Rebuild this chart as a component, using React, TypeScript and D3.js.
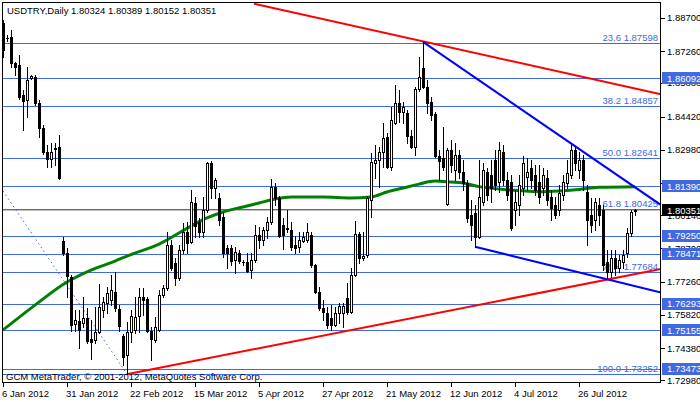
import React from 'react';
import * as d3 from 'd3';

const W = 700;
const H = 402;
const PL = 2, PT = 2, PR = 661, PB = 383;

const opens = [1.8848,1.8783,1.8787,1.8675,1.8666,1.8536,1.8514,1.8610,1.8614,1.8501,1.8392,1.8288,1.8258,1.8306,1.8310,1.7902,1.7850,1.7746,1.7542,1.7555,1.7546,1.7568,1.7477,1.7472,1.7507,1.7603,1.7633,1.7646,1.7681,1.7607,1.7490,1.7407,1.7507,1.7516,1.7577,1.7659,1.7650,1.7511,1.7472,1.7516,1.7668,1.7698,1.7885,1.7807,1.7742,1.7863,1.7941,1.7898,1.8067,1.7985,1.7941,1.8037,1.8241,1.8132,1.8089,1.8006,1.7872,1.7872,1.7820,1.7850,1.7811,1.7811,1.7776,1.7820,1.7928,1.7906,1.7950,1.7985,1.8136,1.8089,1.7972,1.7959,1.7950,1.7885,1.7876,1.7902,1.7906,1.7928,1.7798,1.7681,1.7611,1.7590,1.7568,1.7537,1.7590,1.7590,1.7655,1.7594,1.7755,1.7932,1.7828,1.7841,1.8080,1.8241,1.8254,1.8288,1.8353,1.8223,1.8414,1.8501,1.8462,1.8458,1.8358,1.8310,1.8562,1.8653,1.8570,1.8505,1.8453,1.8271,1.8262,1.8063,1.8297,1.8210,1.8275,1.8201,1.8154,1.8015,1.8024,1.7919,1.8071,1.8201,1.8189,1.8254,1.8158,1.8288,1.8167,1.8158,1.8037,1.8058,1.8132,1.8180,1.8219,1.8189,1.8158,1.8132,1.8176,1.8093,1.8058,1.8037,1.8102,1.8154,1.8189,1.8297,1.8210,1.8254,1.8115,1.8015,1.7993,1.8058,1.8037,1.7811,1.7768,1.7828,1.7785,1.7811,1.7850,1.7937,1.80324];
const highs = [1.8861,1.8796,1.8818,1.8679,1.8709,1.8557,1.8657,1.8623,1.8623,1.8514,1.8405,1.8319,1.8327,1.8327,1.8362,1.7919,1.7872,1.7755,1.7603,1.7603,1.7659,1.7611,1.7559,1.7616,1.7715,1.7659,1.7702,1.7755,1.7768,1.7624,1.7498,1.7550,1.7603,1.7659,1.7698,1.7698,1.7659,1.7529,1.7572,1.7689,1.7711,1.7941,1.7906,1.7828,1.7885,1.7980,1.7985,1.8123,1.8093,1.8002,1.8093,1.8245,1.8249,1.8176,1.8110,1.8024,1.7885,1.7885,1.7876,1.7863,1.7820,1.7850,1.7850,1.7972,1.7963,1.7963,1.8006,1.8171,1.8154,1.8097,1.8002,1.8037,1.7985,1.7924,1.7941,1.7941,1.7980,1.7941,1.7802,1.7702,1.7646,1.7616,1.7624,1.7616,1.7633,1.7633,1.7720,1.7785,1.7989,1.7941,1.7941,1.8097,1.8284,1.8319,1.8310,1.8414,1.8371,1.8484,1.8579,1.8557,1.8505,1.8471,1.8384,1.8570,1.8701,1.8766,1.8601,1.8527,1.8462,1.8297,1.8397,1.8306,1.8340,1.8327,1.8297,1.8254,1.8167,1.8080,1.8058,1.8254,1.8241,1.8219,1.8254,1.8297,1.8332,1.8319,1.8201,1.8189,1.8123,1.8189,1.8271,1.8262,1.8254,1.8232,1.8232,1.8219,1.8210,1.8123,1.8093,1.8145,1.8189,1.8254,1.8319,1.8310,1.8288,1.8275,1.8145,1.8089,1.8089,1.8089,1.8058,1.7863,1.7863,1.7863,1.7841,1.7863,1.7959,1.8037,1.80389];
const lows = [1.8701,1.8770,1.8657,1.8623,1.8518,1.8384,1.8440,1.8605,1.8492,1.8353,1.8280,1.8223,1.8223,1.8232,1.8171,1.7841,1.7659,1.7511,1.7511,1.7438,1.7529,1.7459,1.7390,1.7459,1.7503,1.7572,1.7590,1.7624,1.7598,1.7511,1.7364,1.7325,1.7464,1.7503,1.7507,1.7581,1.7507,1.7386,1.7464,1.7511,1.7659,1.7689,1.7776,1.7711,1.7733,1.7850,1.7850,1.7893,1.7919,1.7919,1.7919,1.8028,1.8089,1.8089,1.7972,1.7833,1.7785,1.7798,1.7763,1.7807,1.7798,1.7768,1.7742,1.7811,1.7872,1.7885,1.7915,1.7976,1.8058,1.7919,1.7867,1.7941,1.7863,1.7850,1.7854,1.7898,1.7898,1.7789,1.7676,1.7603,1.7559,1.7525,1.7516,1.7533,1.7546,1.7529,1.7585,1.7590,1.7750,1.7807,1.7820,1.7833,1.8006,1.8176,1.8136,1.8223,1.8219,1.8210,1.8410,1.8419,1.8414,1.8327,1.8306,1.8275,1.8553,1.8566,1.8458,1.8427,1.8267,1.8167,1.8210,1.8058,1.8201,1.8167,1.8176,1.8123,1.7985,1.7906,1.7876,1.7915,1.8058,1.8080,1.8071,1.8123,1.8115,1.8145,1.8080,1.7950,1.7972,1.8015,1.8102,1.8123,1.8132,1.8102,1.8067,1.8102,1.8058,1.7993,1.8002,1.8015,1.8080,1.8132,1.8176,1.8210,1.8176,1.8123,1.7885,1.7941,1.7950,1.7972,1.7776,1.7742,1.7746,1.7755,1.7768,1.7785,1.7833,1.7924,1.80152];
const closes = [1.8731,1.8781,1.8675,1.8657,1.8527,1.8510,1.8601,1.8618,1.8501,1.8392,1.8288,1.8258,1.8288,1.8301,1.8176,1.7850,1.7750,1.7537,1.7559,1.7516,1.7568,1.7468,1.7464,1.7507,1.7616,1.7637,1.7676,1.7689,1.7611,1.7533,1.7399,1.7507,1.7577,1.7572,1.7659,1.7646,1.7511,1.7477,1.7529,1.7668,1.7698,1.7885,1.7785,1.7742,1.7863,1.7941,1.7893,1.8071,1.7967,1.7941,1.8037,1.8241,1.8132,1.8167,1.7993,1.7850,1.7850,1.7815,1.7854,1.7815,1.7809,1.7772,1.7820,1.7928,1.7906,1.7950,1.7985,1.8136,1.8089,1.7924,1.7928,1.7954,1.7876,1.7872,1.7906,1.7919,1.7941,1.7798,1.7681,1.7611,1.7594,1.7537,1.7537,1.7590,1.7620,1.7620,1.7594,1.7755,1.7932,1.7828,1.7837,1.8089,1.8245,1.8254,1.8288,1.8349,1.8223,1.8427,1.8501,1.8462,1.8484,1.8358,1.8310,1.8562,1.8614,1.8570,1.8501,1.8449,1.8271,1.8249,1.8223,1.8297,1.8232,1.8275,1.8201,1.8154,1.8002,1.7972,1.7919,1.8093,1.8210,1.8102,1.8132,1.8145,1.8297,1.8167,1.8102,1.7959,1.8071,1.8145,1.8241,1.8201,1.8167,1.8123,1.8093,1.8189,1.8080,1.8045,1.8015,1.8110,1.8158,1.8197,1.8297,1.8241,1.8254,1.8167,1.7993,1.7972,1.8071,1.8015,1.7798,1.7768,1.7828,1.7785,1.7820,1.7841,1.7937,1.8028,1.80351];

const maIndex = [0,8,16,22,28,31,39,47,51,55,60,64,68,72,80,87,92,96,100,104,108,112,115,119,127,134,139,144,149,158];
const maValue = [1.7516,1.7624,1.7724,1.7776,1.7815,1.7837,1.7889,1.7967,1.8002,1.8028,1.8050,1.8067,1.8084,1.8093,1.8093,1.8089,1.8093,1.8115,1.8132,1.8149,1.8162,1.8158,1.8154,1.8138,1.8123,1.8116,1.8119,1.8126,1.8135,1.8138];

const hLevels = [1.86092, 1.81390, 1.79250, 1.78471, 1.76293, 1.75155, 1.73473];
const fibLevels = [23.6, 38.2, 50.0, 61.8, 76.4, 100.0];
const fibPrices = [1.87598, 1.84857, 1.82641, 1.80425, 1.77684, 1.73252];
const priceTicks = [1.887, 1.8726, 1.8588, 1.8442, 1.8298, 1.8154, 1.8014, 1.787, 1.7726, 1.7582, 1.7438, 1.7298];
const dateLabels = ['6 Jan 2012', '31 Jan 2012', '22 Feb 2012', '15 Mar 2012', '5 Apr 2012', '27 Apr 2012', '21 May 2012', '12 Jun 2012', '4 Jul 2012', '26 Jul 2012'];
const dateStep = 16;

const redLines = [
  [[62.75, 1.8931], [164.5, 1.8539]],
  [[31.25, 1.7325], [164.5, 1.7781]],
];
const blueLines = [
  [[105, 1.8766], [164.5, 1.8058]],
  [[118, 1.7877], [164.5, 1.7679]],
];
const dottedLine = [[0, 1.8119], [31, 1.7325]];

const symbol = 'USDTRY,Daily';
const bid = 1.80351;

const FONT = '"Liberation Sans", Arial, sans-serif';

export default function App() {
  const n = closes.length;
  const x = d3.scaleLinear().domain([0, n - 1]).range([3, 3 + 4 * (n - 1)]);
  const y = d3.scaleLinear().domain([1.72862, 1.8939]).range([PB, PT]);
  const seg = d3.line<number[]>().x((d) => x(d[0])).y((d) => y(d[1]));
  const maLine = d3
    .line<number>()
    .x((_, i) => x(maIndex[i]))
    .y((d) => y(d))
    .curve(d3.curveMonotoneX);
  const crisp = (v: number) => Math.round(v) + 0.5;
  const fmt = (v: number) => v.toFixed(5);

  return (
    <svg
      width={W}
      height={H}
      style={{ position: 'fixed', left: 0, top: 0, background: '#fff' }}
      fontFamily={FONT}
    >
      <defs>
        <clipPath id="plot">
          <rect x={PL} y={PT} width={PR - PL} height={PB - PT} />
        </clipPath>
      </defs>
      <rect x={0} y={0} width={W} height={H} fill="#fff" />
      <g clipPath="url(#plot)">
        {/* horizontal level lines */}
        {hLevels.concat(fibPrices).map((p, i) => (
          <line key={'h' + i} x1={PL} x2={PR} y1={crisp(y(p))} y2={crisp(y(p))} stroke="#4169E1" strokeWidth={1} />
        ))}
        <line x1={PL} x2={PR} y1={crisp(y(bid))} y2={crisp(y(bid))} stroke="#C0C0C0" strokeWidth={1} />
        {fibLevels.map((f, i) => (
          <text key={'f' + i} x={658} y={Math.round(y(fibPrices[i])) - 2} textAnchor="end" fontSize={9.5} fill="#4169E1">
            {f.toFixed(1) + ' ' + fmt(fibPrices[i])}
          </text>
        ))}
        {/* dotted line */}
        <path d={seg(dottedLine) || ''} stroke="#4169E1" strokeWidth={1} strokeDasharray="1.5 3" fill="none" />
        {/* moving average */}
        <path d={maLine(maValue) || ''} stroke="#008000" strokeWidth={3} fill="none" />
        {redLines.map((l, i) => (
          <path key={'r' + i} d={seg(l) || ''} stroke="#FF0000" strokeWidth={2} fill="none" />
        ))}
        {blueLines.map((l, i) => (
          <path key={'b' + i} d={seg(l) || ''} stroke="#0000FF" strokeWidth={2} fill="none" />
        ))}
        {/* candles */}
        {closes.map((c, i) => {
          const o = opens[i];
          const cx = Math.round(x(i));
          const yh = Math.round(y(highs[i]));
          const yl = Math.round(y(lows[i]));
          const top = Math.round(y(Math.max(o, c)));
          const bot = Math.round(y(Math.min(o, c)));
          const bull = c > o;
          return (
            <g key={'c' + i} shapeRendering="crispEdges">
              <rect x={cx} y={yh} width={1} height={Math.max(1, yl - yh + 1)} fill="#000" />
              {bull ? (
                <rect x={cx - 0.5} y={top + 0.5} width={2} height={Math.max(1, bot - top)} fill="#fff" stroke="#000" strokeWidth={1} />
              ) : (
                <rect x={cx - 1} y={top} width={3} height={Math.max(1, bot - top + 1)} fill="#000" />
              )}
            </g>
          );
        })}
      </g>
      {/* header */}
      <text x={7} y={14} fontSize={9.5} fill="#000">
        {symbol + '  ' + [opens[n - 1], highs[n - 1], lows[n - 1], closes[n - 1]].map(fmt).join(' ')}
      </text>
      <text x={6} y={380} fontSize={9.5} fill="#000">
        GCM MetaTrader, © 2001-2012, MetaQuotes Software Corp.
      </text>
      {/* frame */}
      <rect x={PL + 0.5} y={PT + 0.5} width={PR - PL - 1} height={PB - PT - 1} fill="none" stroke="#000" strokeWidth={1} />
      {/* right axis */}
      {priceTicks.map((p, i) => (
        <g key={'t' + i}>
          <line x1={PR} x2={PR + 4} y1={crisp(y(p))} y2={crisp(y(p))} stroke="#000" />
          <text x={667} y={y(p) + 3.5} fontSize={9.5} fill="#000">
            {fmt(p)}
          </text>
        </g>
      ))}
      {hLevels.map((p, i) => (
        <g key={'bx' + i}>
          <rect x={662} y={Math.round(y(p)) - 6} width={38} height={12} fill="#4169E1" />
          <text x={667} y={y(p) + 3.5} fontSize={9.5} fill="#fff">
            {fmt(p)}
          </text>
        </g>
      ))}
      <rect x={662} y={Math.round(y(bid)) - 6} width={38} height={12} fill="#000" />
      <text x={667} y={y(bid) + 3.5} fontSize={9.5} fill="#fff">
        {fmt(bid)}
      </text>
      {/* date axis */}
      {dateLabels.map((d, i) => {
        const tx = Math.round(x(i * dateStep));
        return (
          <g key={'d' + i}>
            <line x1={tx + 0.5} x2={tx + 0.5} y1={PB} y2={PB + 4} stroke="#000" />
            <text x={tx - 1} y={397} fontSize={9.5} fill="#000">
              {d}
            </text>
          </g>
        );
      })}
    </svg>
  );
}
